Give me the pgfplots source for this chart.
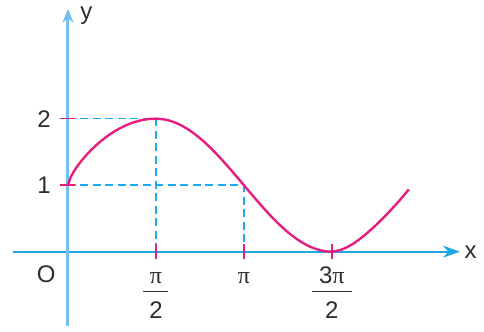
\documentclass[border=0pt]{standalone}
\usepackage{amsmath}
\usepackage{array}
\usepackage{fontspec}
\setmainfont{Liberation Sans}
\newfontfamily\pifont{Liberation Serif}
\usepackage{pgfplots}
\pgfplotsset{compat=1.18}
\usetikzlibrary{arrows.meta}
\definecolor{axblue}{RGB}{30,168,226}
\definecolor{yblue}{RGB}{115,192,238}
\definecolor{curvec}{RGB}{230,30,125}
\definecolor{dashc}{RGB}{30,170,240}
\definecolor{txt}{RGB}{45,45,45}
\newcommand{\p}{{\pifont π}}
% fraction label: baseline = numerator baseline
\newcommand{\fr}[3]{\begin{tabular}[t]{@{}c@{}}#1\\[-19.3pt]\rule{#3}{1.4pt}\\[-2pt]#2\end{tabular}}

\begin{document}
\begin{tikzpicture}
\begin{axis}[
  scale only axis, width=447pt, height=317pt,
  xmin=-0.982, xmax=7.0, ymin=-1.113, ymax=3.654,
  axis lines=middle,
  clip=false,
  x axis line style={axblue, line width=1.7pt, -{Stealth[length=17pt,width=12pt]}},
  y axis line style={yblue, line width=3pt, -{Stealth[length=14pt,width=11pt]}},
  tick style={draw=none},
  xtick={1.5708,3.1416,4.7124},
  xticklabels={\fr{\p}{2}{25pt}, \p, \fr{3\p}{2}{40pt}},
  ytick={1,2},
  yticklabels={1,2},
  tick label style={font=\fontsize{24}{28}\selectfont, text=txt, inner sep=0pt},
  xticklabel style={anchor=base, yshift=-30pt},
  yticklabel style={anchor=east, xshift=-15pt},
]
% dashed guides
\draw[dashc, line width=1.5pt, dash pattern=on 8pt off 4.5pt]
  (axis cs:0,2) -- (axis cs:1.5708,2) -- (axis cs:1.5708,0);
\draw[dashc, line width=1.5pt, dash pattern=on 8pt off 4.5pt]
  (axis cs:0,1) -- (axis cs:3.1416,1) -- (axis cs:3.1416,0);

\addplot[curvec, line width=2.4pt, smooth] coordinates {
  (0,1) (0.05,1.123) (0.1,1.199) (0.2,1.323) (0.3,1.426) (0.4,1.517)
  (0.5,1.598) (0.6,1.670) (0.7,1.735) (0.8,1.793) (0.9,1.843)
  (1.0,1.886) (1.1,1.923) (1.2,1.952) (1.3,1.974) (1.4,1.990)
  (1.5708,2.0) (1.7671,1.981) (1.9635,1.924) (2.1598,1.831)
  (2.3562,1.707) (2.5525,1.556) (2.7489,1.383) (2.9452,1.195)
  (3.1416,1.0) (3.3379,0.805) (3.5343,0.617) (3.7306,0.444)
  (3.9270,0.293) (4.1233,0.169) (4.3197,0.076) (4.5160,0.019)
  (4.7124,0) (4.9087,0.038) (5.1051,0.126) (5.3014,0.25)
  (5.4978,0.398) (5.6941,0.562) (5.8905,0.741) (6.0868,0.935)
};

% tick marks
\pgfplotsinvokeforeach{1.5708,3.1416,4.7124}{
  \draw[curvec, line width=1.5pt] ([yshift=7.5pt]axis cs:#1,0) -- ([yshift=-7.5pt]axis cs:#1,0);
}
\pgfplotsinvokeforeach{1,2}{
  \draw[curvec, line width=1.5pt] ([xshift=-8pt]axis cs:0,#1) -- ([xshift=7pt]axis cs:0,#1);
}

\node[font=\fontsize{24}{28}\selectfont, text=txt] at (axis cs:-0.387,-0.335) {O};
\node[font=\fontsize{24}{28}\selectfont, text=txt] at (axis cs:0.327,3.546) {y};
\node[font=\fontsize{24}{28}\selectfont, text=txt] at (axis cs:7.193,0) {x};
% page extent
\path (axis cs:-1.214,-1.196) rectangle (axis cs:7.43,3.785);
\end{axis}
\end{tikzpicture}
\end{document}
